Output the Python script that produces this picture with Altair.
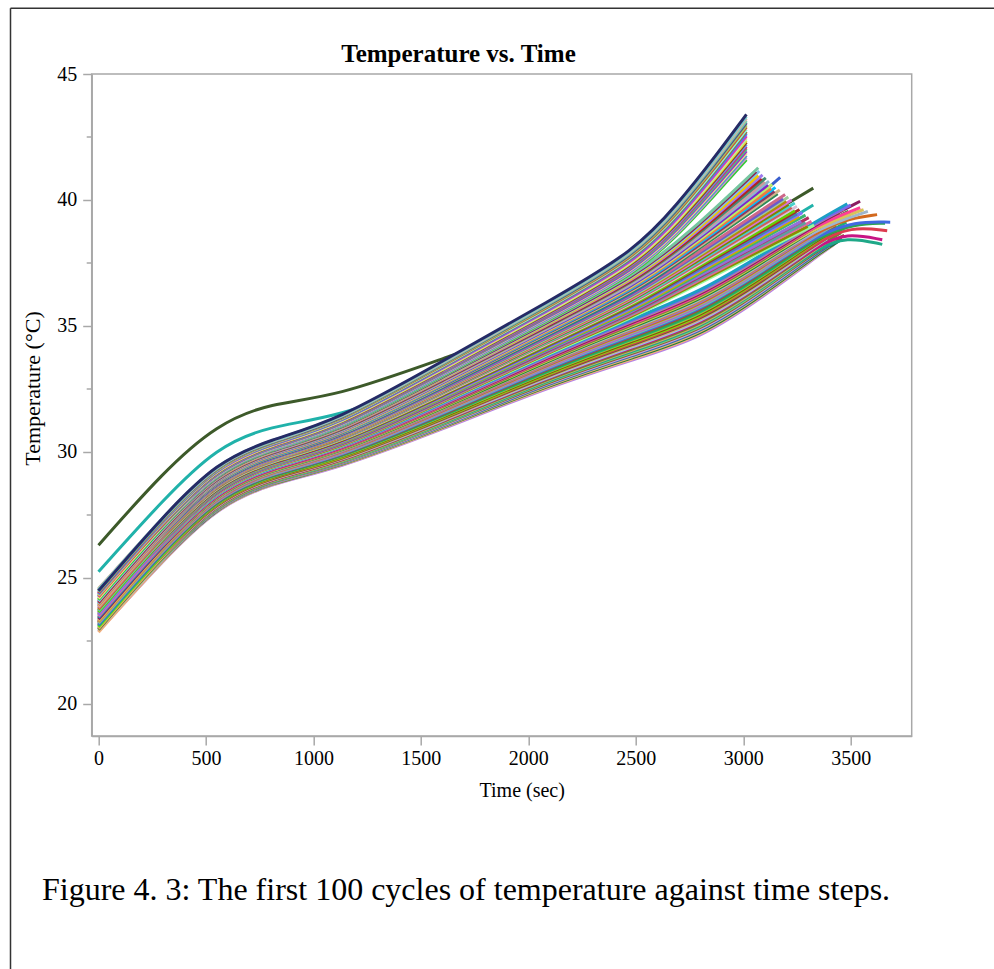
import altair as alt
import pandas as pd

# Shared time knots (sec) at which every cycle's temperature was read
KNOT_TIMES = [0, 300, 550, 800, 1100, 1600, 2100, 2500]

# Temperature (deg C) of each cycle at KNOT_TIMES
CYCLE_TEMPS = [
    [26.30, 29.20, 31.10, 31.95, 32.18, 33.70, 35.20, 36.55],
    [25.25, 28.10, 30.20, 31.05, 31.35, 32.90, 34.45, 35.85],
    [22.88, 25.70, 27.80, 28.75, 29.30, 30.90, 32.60, 33.70],
    [22.85, 25.72, 27.82, 28.77, 29.32, 30.93, 32.64, 33.74],
    [22.97, 25.74, 27.84, 28.79, 29.34, 30.96, 32.67, 33.79],
    [22.90, 25.75, 27.86, 28.80, 29.36, 30.98, 32.71, 33.83],
    [23.05, 25.77, 27.87, 28.82, 29.38, 31.01, 32.74, 33.88],
    [22.94, 25.79, 27.89, 28.84, 29.40, 31.04, 32.78, 33.92],
    [23.08, 25.81, 27.91, 28.86, 29.42, 31.07, 32.81, 33.97],
    [22.98, 25.83, 27.93, 28.88, 29.44, 31.09, 32.85, 34.01],
    [23.12, 25.84, 27.95, 28.89, 29.46, 31.12, 32.88, 34.05],
    [23.01, 25.86, 27.97, 28.91, 29.48, 31.15, 32.92, 34.10],
    [22.95, 25.88, 27.99, 28.93, 29.50, 31.18, 32.95, 34.14],
    [23.18, 25.90, 28.00, 28.95, 29.52, 31.21, 32.99, 34.19],
    [23.07, 25.92, 28.02, 28.97, 29.54, 31.23, 33.02, 34.23],
    [23.00, 25.93, 28.04, 28.98, 29.55, 31.26, 33.06, 34.28],
    [23.22, 25.95, 28.06, 29.00, 29.57, 31.29, 33.09, 34.32],
    [23.12, 25.97, 28.08, 29.02, 29.59, 31.32, 33.13, 34.36],
    [23.05, 25.99, 28.10, 29.04, 29.61, 31.34, 33.16, 34.41],
    [23.26, 26.01, 28.12, 29.06, 29.63, 31.37, 33.20, 34.45],
    [23.17, 26.02, 28.13, 29.07, 29.65, 31.40, 33.23, 34.50],
    [23.10, 26.04, 28.15, 29.09, 29.67, 31.43, 33.27, 34.54],
    [23.32, 26.06, 28.17, 29.11, 29.69, 31.46, 33.30, 34.59],
    [23.23, 26.08, 28.19, 29.13, 29.71, 31.48, 33.34, 34.63],
    [23.15, 26.10, 28.21, 29.15, 29.73, 31.51, 33.37, 34.67],
    [23.38, 26.11, 28.23, 29.16, 29.75, 31.54, 33.41, 34.72],
    [23.28, 26.13, 28.25, 29.18, 29.77, 31.57, 33.44, 34.76],
    [23.20, 26.15, 28.27, 29.20, 29.79, 31.60, 33.48, 34.81],
    [23.42, 26.17, 28.28, 29.22, 29.81, 31.62, 33.51, 34.85],
    [23.34, 26.19, 28.30, 29.24, 29.83, 31.65, 33.55, 34.90],
    [23.26, 26.20, 28.32, 29.25, 29.85, 31.68, 33.58, 34.94],
    [23.47, 26.22, 28.34, 29.27, 29.87, 31.71, 33.62, 34.98],
    [23.39, 26.24, 28.36, 29.29, 29.89, 31.73, 33.65, 35.03],
    [23.31, 26.26, 28.38, 29.31, 29.91, 31.76, 33.69, 35.07],
    [23.52, 26.28, 28.40, 29.33, 29.93, 31.79, 33.72, 35.12],
    [23.44, 26.29, 28.41, 29.34, 29.95, 31.82, 33.76, 35.16],
    [23.36, 26.31, 28.43, 29.36, 29.97, 31.85, 33.79, 35.21],
    [23.58, 26.33, 28.45, 29.38, 29.99, 31.87, 33.83, 35.25],
    [23.50, 26.35, 28.47, 29.40, 30.01, 31.90, 33.86, 35.29],
    [23.43, 26.37, 28.49, 29.42, 30.03, 31.93, 33.90, 35.34],
    [23.62, 26.38, 28.51, 29.43, 30.04, 31.96, 33.93, 35.38],
    [23.55, 26.40, 28.53, 29.45, 30.06, 31.98, 33.97, 35.43],
    [23.48, 26.42, 28.54, 29.47, 30.08, 32.01, 34.00, 35.47],
    [23.66, 26.44, 28.56, 29.49, 30.10, 32.04, 34.04, 35.52],
    [23.61, 26.46, 28.58, 29.51, 30.12, 32.07, 34.07, 35.56],
    [23.54, 26.47, 28.60, 29.52, 30.14, 32.10, 34.11, 35.60],
    [23.72, 26.49, 28.62, 29.54, 30.16, 32.12, 34.14, 35.65],
    [23.66, 26.51, 28.64, 29.56, 30.18, 32.15, 34.18, 35.69],
    [23.60, 26.53, 28.66, 29.58, 30.20, 32.18, 34.21, 35.74],
    [23.78, 26.55, 28.67, 29.60, 30.22, 32.21, 34.25, 35.78],
    [23.71, 26.56, 28.69, 29.61, 30.24, 32.23, 34.28, 35.83],
    [23.64, 26.58, 28.71, 29.63, 30.26, 32.26, 34.32, 35.87],
    [23.83, 26.60, 28.73, 29.65, 30.28, 32.29, 34.35, 35.92],
    [23.77, 26.62, 28.75, 29.67, 30.30, 32.32, 34.39, 35.96],
    [23.70, 26.64, 28.77, 29.69, 30.32, 32.35, 34.42, 36.00],
    [23.88, 26.65, 28.79, 29.70, 30.34, 32.37, 34.46, 36.05],
    [23.82, 26.67, 28.80, 29.72, 30.36, 32.40, 34.49, 36.09],
    [23.75, 26.69, 28.82, 29.74, 30.38, 32.43, 34.53, 36.14],
    [23.94, 26.71, 28.84, 29.76, 30.40, 32.46, 34.56, 36.18],
    [23.88, 26.73, 28.86, 29.78, 30.42, 32.48, 34.60, 36.23],
    [23.81, 26.74, 28.88, 29.79, 30.44, 32.51, 34.63, 36.27],
    [24.00, 26.76, 28.90, 29.81, 30.46, 32.54, 34.67, 36.31],
    [23.93, 26.78, 28.92, 29.83, 30.48, 32.57, 34.70, 36.36],
    [23.86, 26.80, 28.93, 29.85, 30.50, 32.60, 34.74, 36.40],
    [24.06, 26.82, 28.95, 29.87, 30.52, 32.62, 34.77, 36.45],
    [23.98, 26.83, 28.97, 29.88, 30.53, 32.65, 34.81, 36.49],
    [23.92, 26.85, 28.99, 29.90, 30.55, 32.68, 34.84, 36.54],
    [24.11, 26.87, 29.01, 29.92, 30.57, 32.71, 34.88, 36.58],
    [24.04, 26.89, 29.03, 29.94, 30.59, 32.73, 34.91, 36.62],
    [23.97, 26.91, 29.05, 29.96, 30.61, 32.76, 34.95, 36.67],
    [24.16, 26.92, 29.06, 29.97, 30.63, 32.79, 34.98, 36.71],
    [24.09, 26.94, 29.08, 29.99, 30.65, 32.82, 35.02, 36.76],
    [24.02, 26.96, 29.10, 30.01, 30.67, 32.85, 35.05, 36.80],
    [24.22, 26.98, 29.12, 30.03, 30.69, 32.87, 35.09, 36.85],
    [24.15, 27.00, 29.14, 30.05, 30.71, 32.90, 35.12, 36.89],
    [24.08, 27.01, 29.16, 30.06, 30.73, 32.93, 35.16, 36.94],
    [24.27, 27.03, 29.18, 30.08, 30.75, 32.96, 35.19, 36.98],
    [24.20, 27.05, 29.20, 30.10, 30.77, 32.99, 35.23, 37.02],
    [24.14, 27.07, 29.21, 30.12, 30.79, 33.01, 35.26, 37.07],
    [24.33, 27.09, 29.23, 30.14, 30.81, 33.04, 35.30, 37.11],
    [24.25, 27.10, 29.25, 30.15, 30.83, 33.07, 35.33, 37.16],
    [24.19, 27.12, 29.27, 30.17, 30.85, 33.10, 35.37, 37.20],
    [24.38, 27.14, 29.29, 30.19, 30.87, 33.12, 35.40, 37.24],
    [24.31, 27.16, 29.31, 30.21, 30.89, 33.15, 35.44, 37.29],
    [24.26, 27.18, 29.33, 30.23, 30.91, 33.18, 35.47, 37.33],
    [24.44, 27.19, 29.34, 30.24, 30.93, 33.21, 35.51, 37.38],
    [24.36, 27.21, 29.36, 30.26, 30.95, 33.24, 35.54, 37.42],
    [24.30, 27.23, 29.38, 30.28, 30.97, 33.26, 35.58, 37.47],
    [24.48, 27.25, 29.40, 30.30, 30.99, 33.29, 35.61, 37.51],
    [24.42, 27.27, 29.42, 30.32, 31.01, 33.32, 35.65, 37.55],
    [24.35, 27.28, 29.44, 30.33, 31.02, 33.35, 35.68, 37.60],
    [24.52, 27.30, 29.46, 30.35, 31.04, 33.37, 35.72, 37.64],
    [24.47, 27.32, 29.47, 30.37, 31.06, 33.40, 35.75, 37.69],
    [24.40, 27.34, 29.49, 30.39, 31.08, 33.43, 35.79, 37.73],
    [24.56, 27.36, 29.51, 30.41, 31.10, 33.46, 35.82, 37.78],
    [24.50, 27.37, 29.53, 30.42, 31.12, 33.49, 35.86, 37.82],
    [24.45, 27.39, 29.55, 30.44, 31.14, 33.51, 35.89, 37.86],
    [24.58, 27.41, 29.57, 30.46, 31.16, 33.54, 35.93, 37.91],
    [24.54, 27.43, 29.59, 30.48, 31.18, 33.57, 35.96, 37.95],
    [24.49, 27.45, 29.60, 30.50, 31.20, 33.60, 36.00, 38.00],
]

# Late part of each cycle: extra times (sec) up to the cycle's end
TAIL_TIMES = [
    [2750, 3326], [2750, 3326],
    [2800, 3100, 3350, 3440], [2800, 3100, 3350, 3420], [2800, 3100, 3350, 3460],
    [2800, 3100, 3350, 3400], [2800, 3100, 3350, 3450], [2800, 3100, 3350, 3380],
    [2800, 3100, 3350, 3470], [2800, 3100, 3350, 3430], [2800, 3100, 3350, 3480, 3647],
    [2800, 3100, 3350, 3410], [2800, 3100, 3350, 3455], [2800, 3100, 3350, 3480, 3647],
    [2800, 3100, 3350, 3390], [2800, 3100, 3350, 3440], [2800, 3100, 3350, 3470],
    [2800, 3100, 3350, 3500, 3670], [2800, 3100, 3350, 3420], [2800, 3100, 3350, 3460],
    [2800, 3100, 3350, 3400], [2800, 3100, 3350, 3480], [2800, 3100, 3350, 3520, 3660],
    [2800, 3100, 3350, 3430], [2800, 3100, 3350, 3520, 3684], [2800, 3100, 3350, 3470],
    [2800, 3100, 3350, 3440], [2800, 3100, 3350, 3500], [2800, 3100, 3350, 3500, 3623],
    [2800, 3100, 3350, 3460], [2800, 3100, 3350, 3420], [2800, 3100, 3350, 3580],
    [2800, 3100, 3350, 3490], [2800, 3100, 3350, 3560], [2800, 3100, 3350, 3450],
    [2800, 3100, 3350, 3544], [2800, 3100, 3350, 3544], [2800, 3100, 3350, 3470],
    [2800, 3100, 3350, 3500], [2800, 3100, 3350, 3484],
    [2750, 3330], [2750, 3300], [2750, 3318], [2750, 3290], [2750, 3305],
    [2750, 3270], [2750, 3290], [2750, 3260], [2750, 3275], [2750, 3250],
    [2750, 3262], [2750, 3240], [2750, 3250], [2750, 3225], [2750, 3240],
    [2750, 3210], [2750, 3225], [2750, 3200], [2750, 3210], [2750, 3185],
    [2750, 3195], [2750, 3172], [2750, 3160], [2750, 3170], [2750, 3145],
    [2750, 3150], [2750, 3130], [2750, 3135], [2750, 3115], [2750, 3120],
    [2750, 3100], [2750, 3105], [2750, 3085], [2750, 3090], [2750, 3070],
    [2750, 3075], [2750, 3060], [2750, 3070],
    [2700, 2850, 3015], [2700, 2850, 3015], [2700, 2850, 3015], [2700, 2850, 3015],
    [2700, 2850, 3015], [2700, 2850, 3015], [2700, 2850, 3015], [2700, 2850, 3015],
    [2700, 2850, 3015], [2700, 2850, 3015], [2700, 2850, 3015], [2700, 2850, 3015],
    [2700, 2850, 3015], [2700, 2850, 3015], [2700, 2850, 3015], [2700, 2850, 3015],
    [2700, 2850, 3015], [2700, 2850, 3015], [2700, 2850, 3015], [2700, 2850, 3015],
    [2700, 2850, 3015], [2700, 2850, 3015],
]

# Temperatures (deg C) at TAIL_TIMES
TAIL_TEMPS = [
    [37.55, 40.47], [36.85, 39.80],
    [34.50, 36.20, 37.80, 38.35], [34.55, 36.25, 37.84, 38.22], [34.60, 36.29, 37.88, 38.45],
    [34.65, 36.34, 37.91, 38.18], [34.70, 36.38, 37.95, 38.45], [34.75, 36.43, 37.99, 38.15],
    [34.80, 36.48, 38.03, 38.60], [34.85, 36.52, 38.07, 38.45], [34.90, 36.57, 38.10, 38.55, 38.24],
    [34.95, 36.61, 38.14, 38.45], [35.00, 36.66, 38.18, 38.70], [35.05, 36.71, 38.22, 38.70, 38.42],
    [35.10, 36.75, 38.26, 38.46], [35.15, 36.80, 38.29, 38.75], [35.20, 36.84, 38.33, 38.90],
    [35.25, 36.89, 38.37, 38.95, 38.78], [35.30, 36.94, 38.41, 38.78], [35.35, 36.98, 38.45, 38.98],
    [35.40, 37.03, 38.48, 38.75], [35.45, 37.07, 38.52, 39.12], [35.50, 37.12, 38.56, 39.06, 39.08],
    [35.55, 37.17, 38.60, 38.98], [35.60, 37.21, 38.64, 39.15, 39.12], [35.65, 37.26, 38.67, 39.22],
    [35.70, 37.30, 38.71, 39.12], [35.75, 37.35, 38.75, 39.42], [35.80, 37.40, 38.79, 39.28, 39.42],
    [35.85, 37.44, 38.83, 39.35], [35.90, 37.49, 38.86, 39.20], [35.95, 37.53, 38.90, 39.55],
    [36.00, 37.58, 38.94, 39.55], [36.05, 37.63, 38.98, 39.62], [36.10, 37.67, 39.02, 39.45],
    [36.15, 37.72, 39.05, 39.70], [36.20, 37.76, 39.09, 39.95], [36.25, 37.81, 39.13, 39.65],
    [36.30, 37.86, 39.17, 39.80], [36.35, 37.90, 39.21, 39.85],
    [36.50, 39.00], [36.56, 38.95], [36.62, 39.15], [36.68, 39.10], [36.74, 39.30],
    [36.80, 39.15], [36.86, 39.40], [36.92, 39.35], [36.98, 39.50], [37.04, 39.45],
    [37.10, 39.62], [37.15, 39.58], [37.21, 39.75], [37.27, 39.70], [37.33, 39.88],
    [37.39, 39.82], [37.45, 40.00], [37.51, 39.95], [37.57, 40.12], [37.63, 40.05],
    [37.69, 40.22], [37.75, 40.90], [37.81, 40.25], [37.87, 40.40], [37.93, 40.35],
    [37.99, 40.50], [38.05, 40.45], [38.11, 40.62], [38.17, 40.60], [38.23, 40.75],
    [38.29, 40.72], [38.34, 40.88], [38.40, 40.85], [38.46, 41.00], [38.52, 40.98],
    [38.58, 41.15], [38.64, 41.12], [38.70, 41.28],
    [38.64, 40.03, 41.60], [38.70, 40.10, 41.69], [38.76, 40.17, 41.77], [38.82, 40.24, 41.86],
    [38.88, 40.31, 41.94], [38.94, 40.38, 42.03], [39.00, 40.45, 42.11], [39.06, 40.52, 42.20],
    [39.12, 40.59, 42.29], [39.18, 40.66, 42.37], [39.24, 40.73, 42.46], [39.30, 40.80, 42.54],
    [39.36, 40.87, 42.63], [39.42, 40.94, 42.71], [39.48, 41.01, 42.80], [39.54, 41.08, 42.89],
    [39.60, 41.15, 42.97], [39.66, 41.22, 43.06], [39.72, 41.29, 43.14], [39.78, 41.36, 43.23],
    [39.84, 41.43, 43.31], [39.90, 41.50, 43.40],
]

LINE_COLORS = [
    "#3d5a2a", "#20b2aa",
    "#b27ee8", "#f4b183", "#1e7b3a", "#e8b46f", "#2e6fb0", "#c9a0dc", "#8b5a2b", "#7ccd7c",
    "#1fa888", "#d4a373", "#6b8e23", "#c71585", "#87ceeb", "#e9967a", "#556b2f", "#dc3c50",
    "#76ee00", "#8b4513", "#9acd32", "#20b070", "#2ea44f", "#a0522d", "#4169e1", "#66cdaa",
    "#ba55d3", "#8fbc8f", "#d2691e", "#9370db", "#cd853f", "#9fb6cd", "#228b22", "#d9c25a",
    "#6e8b3d", "#ff3e96", "#8b1c62", "#bc8f8f", "#7a67ee", "#1c9fc4",
    "#98fb98", "#8b8b00", "#e066a0", "#5f9ea0", "#b03060", "#9370db", "#3cb371", "#cdad00",
    "#8470ff", "#4682b4", "#a52a2a", "#66cd00", "#d8bfd8", "#cd5c5c", "#48d1cc", "#808000",
    "#da70d6", "#b8860b", "#9bcd9b", "#6a5acd", "#cd6889", "#3a5fcd", "#2e8b57", "#d2b48c",
    "#8b3a62", "#00bfff", "#ee7942", "#bcee68", "#7d26cd", "#8db6cd", "#cd9b9b", "#458b74",
    "#b22222", "#9f79ee", "#eec900", "#7ec0ee", "#8b2252", "#76c6a0",
    "#32cd32", "#cd96cd", "#4f94cd", "#eedd82", "#9932cc", "#43cd80", "#cd3278", "#6495ed",
    "#8b4726", "#e0e040", "#b4eeb4", "#ee30a7", "#4876ff", "#8b7355", "#7fffd4", "#cd4f39",
    "#a2cd5a", "#5d478b", "#66cdaa", "#d8b0a0", "#79cdcd", "#262b66",
]

X_TICKS = [0, 500, 1000, 1500, 2000, 2500, 3000, 3500]
Y_TICKS = [20, 25, 30, 35, 40, 45]
Y_MINOR_TICKS = [22.5, 27.5, 32.5, 37.5, 42.5]

CHART_TITLE = "Temperature vs. Time"
X_TITLE = "Time (sec)"
Y_TITLE = "Temperature (\u00b0C)"
CAPTION = "Figure 4. 3: The first 100 cycles of temperature against time steps."

records = []
for i, temps in enumerate(CYCLE_TEMPS):
    times = KNOT_TIMES + TAIL_TIMES[i]
    values = temps + TAIL_TEMPS[i]
    for t, v in zip(times, values):
        records.append({"cycle": i + 1, "time": t, "temp": v, "color": LINE_COLORS[i]})
df = pd.DataFrame(records)

SERIF = "Liberation Serif"
GRAY = "#a8a8a8"

x_scale = alt.Scale(domain=[-31.6, 3784], nice=False, zero=False)
y_scale = alt.Scale(domain=[18.73, 45], nice=False, zero=False)

x_axis = alt.Axis(values=X_TICKS, format="d", title=X_TITLE, grid=False,
                  labelFont=SERIF, labelFontSize=20, labelColor="black", labelPadding=3,
                  labelFlush=False, tickSize=9, tickColor=GRAY, tickWidth=1.5,
                  domainColor=GRAY, domainWidth=1.5,
                  titleFont=SERIF, titleFontSize=20, titleFontWeight="normal", titleColor="black",
                  titleX=430, titleY=60, titleAlign="center", titleBaseline="alphabetic")
y_axis = alt.Axis(values=Y_TICKS, title=Y_TITLE, grid=False,
                  labelFont=SERIF, labelFontSize=20, labelColor="black", labelPadding=6,
                  labelFlush=False, tickSize=9, tickColor=GRAY, tickWidth=1.5,
                  domainColor=GRAY, domainWidth=1.5,
                  titleFont=SERIF, titleFontSize=22, titleFontWeight="normal", titleColor="black",
                  titleAngle=270, titleX=-52, titleY=314, titleAlign="center",
                  titleBaseline="alphabetic")

lines = alt.Chart(df).mark_line(strokeWidth=3, interpolate="basis", clip=True).encode(
    x=alt.X("time:Q", scale=x_scale, axis=x_axis),
    y=alt.Y("temp:Q", scale=y_scale, axis=y_axis),
    color=alt.Color("color:N", scale=None),
    detail="cycle:N",
)

minor = alt.Chart(pd.DataFrame({"temp": Y_MINOR_TICKS})).mark_rule(
    color=GRAY, strokeWidth=1.5
).encode(
    y=alt.Y("temp:Q", scale=y_scale, axis=y_axis),
    x=alt.value(-5), x2=alt.value(0),
)

title_text = alt.Chart(pd.DataFrame({"label": [CHART_TITLE]})).mark_text(
    font=SERIF, fontSize=25, fontWeight="bold", color="black", align="center", baseline="alphabetic"
).encode(text="label:N", x=alt.value(366.8), y=alt.value(-12))

caption_text = alt.Chart(pd.DataFrame({"label": [CAPTION]})).mark_text(
    font=SERIF, fontSize=32, color="black", align="left", baseline="alphabetic"
).encode(text="label:N", x=alt.value(-49.7), y=alt.value(826))

one = pd.DataFrame({"k": [0]})
frame_left = alt.Chart(one).mark_rule(color="#333333", strokeWidth=1.5).encode(
    x=alt.value(-81.2), y=alt.value(-65.7), y2=alt.value(895))
frame_top = alt.Chart(one).mark_rule(color="#333333", strokeWidth=1.5).encode(
    x=alt.value(-81.2), x2=alt.value(902.3), y=alt.value(-65.7))

chart = alt.layer(lines, minor, title_text, caption_text, frame_left, frame_top).properties(
    width=820, height=662,
    autosize=alt.AutoSizeParams(type="none"),
    padding={"left": 91.7, "top": 74, "right": 82.3, "bottom": 233},
    background="white",
).configure_view(stroke=GRAY, strokeWidth=1.5)

chart.save("out.html", embed_options={"renderer": "svg", "actions": False})
